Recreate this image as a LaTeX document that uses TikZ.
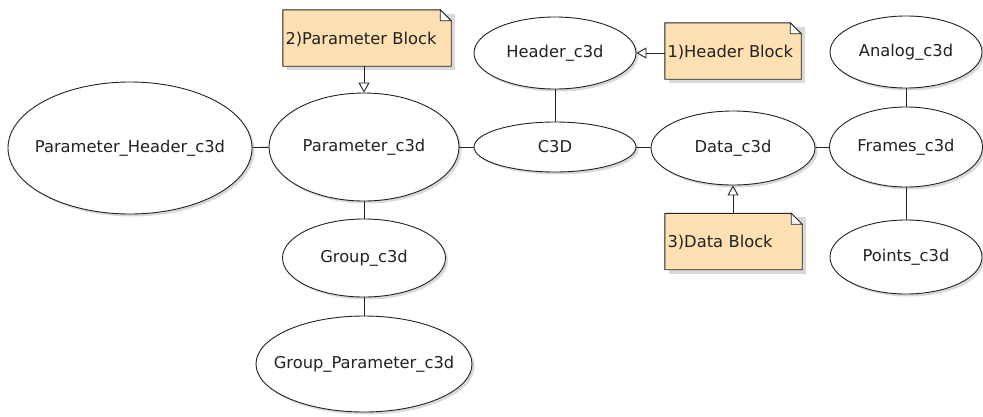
\documentclass[tikz,border=0pt]{standalone}
\usepackage{fontspec}
\setmainfont{DejaVu Sans}
\usetikzlibrary{shapes.geometric,shadows,arrows.meta,backgrounds}
\definecolor{notefill}{RGB}{255,224,178}
\definecolor{inkc}{RGB}{34,34,34}
\newcommand{\notebg}[1]{%
  \fill[black!15] ([shift={(4pt,-4pt)}]#1.north west) rectangle ([shift={(4pt,-4pt)}]#1.south east);
  \draw[draw=inkc, fill=notefill, line width=0.9pt] (#1.north west) -- ([xshift=-11pt]#1.north east) -- ([yshift=-11pt]#1.north east) -- (#1.south east) -- (#1.south west) -- cycle;
  \draw[draw=inkc, line width=0.7pt, fill=white] ([xshift=-11pt]#1.north east) -- ([xshift=-11pt,yshift=-11pt]#1.north east) -- ([yshift=-11pt]#1.north east) -- cycle;
}
\begin{document}
\begin{tikzpicture}[x=1pt,y=-1pt,
  every node/.style={font=\fontsize{16.3}{19}\selectfont, text=inkc},
  oval/.style={ellipse, draw=inkc, line width=0.9pt, fill=white, inner sep=0pt,
    drop shadow={shadow xshift=2.5pt, shadow yshift=-2.5pt, fill=black, opacity=0.15}},
  link/.style={draw=inkc, line width=0.9pt},
  notebox/.style={rectangle, inner xsep=2.5pt, inner ysep=0pt, align=left, minimum height=56pt, text depth=0pt},
  tipline/.style={link, -{Triangle[open, length=10pt, width=11pt, line width=0.9pt]}}
]
\useasboundingbox (0,0) rectangle (983,416);

% ellipses
\node[oval, minimum width=244pt, minimum height=132pt] (ph) at (130,148) {\makebox[0pt]{Parameter\_Header\_c3d}};
\node[oval, minimum width=190pt, minimum height=108pt] (par) at (364,147) {\makebox[0pt]{Parameter\_c3d}};
\node[oval, minimum width=162pt, minimum height=50pt] (c3d) at (555,147) {\makebox[0pt]{C3D}};
\node[oval, minimum width=162pt, minimum height=72pt] (hdr) at (555,53) {\makebox[0pt]{Header\_c3d}};
\node[oval, minimum width=164pt, minimum height=74pt] (data) at (733,148) {\makebox[0pt]{Data\_c3d}};
\node[oval, minimum width=153pt, minimum height=80pt] (frames) at (906,147) {\makebox[0pt]{Frames\_c3d}};
\node[oval, minimum width=152pt, minimum height=72pt] (analog) at (906,52) {\makebox[0pt]{Analog\_c3d}};
\node[oval, minimum width=152pt, minimum height=74pt] (points) at (906,257) {\makebox[0pt]{Points\_c3d}};
\node[oval, minimum width=163pt, minimum height=78pt] (grp) at (364,258) {\makebox[0pt]{Group\_c3d}};
\node[oval, minimum width=216pt, minimum height=96pt] (gpar) at (364,364) {\makebox[0pt]{Group\_Parameter\_c3d}};

% notes
\node[notebox, text width=163pt] (n2) at (367,38) {2)Parameter Block};
\node[notebox, text width=131pt] (n1) at (733,51) {1)Header Block};
\node[notebox, text width=132pt] (n3) at (733.5,241.5) {3)Data Block};
\begin{scope}[on background layer]
  \notebg{n2}
  \notebg{n1}
  \notebg{n3}
\end{scope}

% connectors
\draw[link] (ph) -- (par);
\draw[link] (par) -- (c3d);
\draw[link] (c3d) -- (hdr);
\draw[link] (c3d) -- (data);
\draw[link] (data) -- (frames);
\draw[link] (frames) -- (analog);
\draw[link] (frames) -- (points);
\draw[link] (par) -- (grp);
\draw[link] (grp) -- (gpar);

% note arrows
\draw[tipline] (par.north |- n2.south) -- (par.north);
\draw[tipline] (n1.west |- hdr.east) -- (hdr.east);
\draw[tipline] (data.south |- n3.north) -- (data.south);
\end{tikzpicture}
\end{document}
